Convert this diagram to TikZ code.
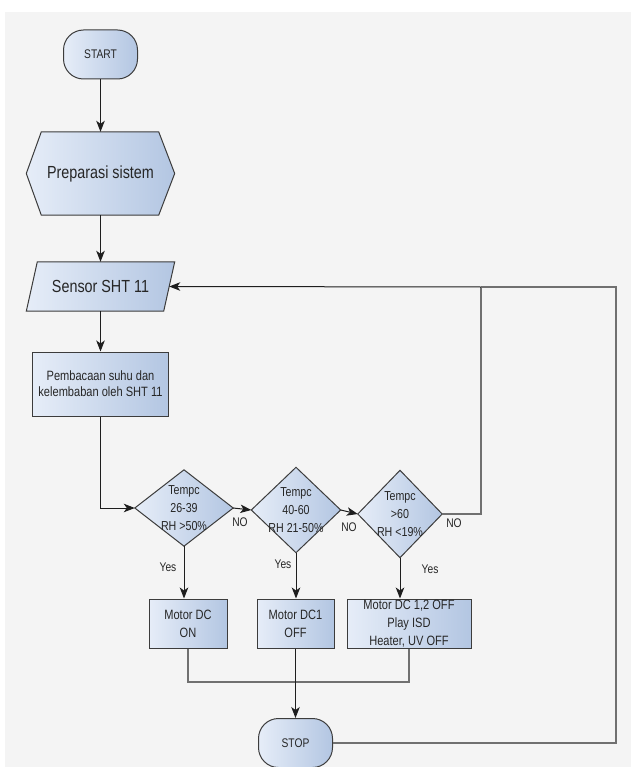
\documentclass[tikz,border=0pt]{standalone}
\usepackage{fontspec}
\setmainfont{Liberation Sans}[FakeStretch=0.82]
\usetikzlibrary{arrows.meta,backgrounds}
\definecolor{bg}{HTML}{F4F4F4}
\definecolor{fillL}{HTML}{E6EDF8}
\definecolor{fillR}{HTML}{B3C6E2}
\definecolor{edge}{HTML}{3C3C3C}
\definecolor{conn}{HTML}{1E1E1E}
\definecolor{loopc}{HTML}{707070}
\definecolor{ink}{HTML}{262626}
\begin{document}
\begin{tikzpicture}[x=1pt,y=-1pt,
  shp/.style={draw=edge,line width=1pt,left color=fillL,right color=fillR},
  txt/.style={inner sep=0pt,align=center,text=ink},
  term/.style={shp,txt,rounded corners=20pt,minimum width=74pt,minimum height=49pt,font=\fontsize{12.5}{15}\selectfont},
  boxn/.style={shp,txt,minimum height=49pt,font=\fontsize{13.5}{18}\selectfont},
  dia/.style={txt,font=\fontsize{13}{18}\selectfont},
  arr/.style={draw=conn,line width=1pt,-{Stealth[length=11pt,width=8.5pt,inset=3pt]}},
  ln/.style={draw=loopc,line width=1.3pt},
  lbl/.style={inner sep=0pt,text=ink,font=\fontsize{12.5}{15}\selectfont}]
\useasboundingbox (0,0) rectangle (631,767);

% nodes
\node[term] (start) at (100.5,54.5) {START};
\node[txt,minimum width=148pt,minimum height=83pt,font=\fontsize{17.5}{20}\selectfont] (prep) at (100.5,173.5) {Preparasi sistem};
\node[txt,minimum width=137pt,minimum height=49pt,font=\fontsize{17.5}{20}\selectfont] (sen) at (100.5,286.5) {Sensor SHT 11};
\node[shp,txt,minimum width=136pt,minimum height=64pt,font=\fontsize{13.5}{16}\selectfont] (pem) at (100.5,384) {Pembacaan suhu dan\\kelembaban oleh SHT 11};
\node[dia,minimum width=98pt,minimum height=76pt] (d1) at (184,508) {Tempc\\26-39\\RH >50\%};
\node[dia,minimum width=89pt,minimum height=85pt] (d2) at (296,510) {Tempc\\40-60\\RH 21-50\%};
\node[dia,minimum width=84pt,minimum height=87pt] (d3) at (400,514) {Tempc\\>60\\RH <19\%};
\node[boxn,minimum width=78pt] (b1) at (188,623.5) {Motor DC\\ON};
\node[boxn,minimum width=77pt] (b2) at (295.5,623.5) {Motor DC1\\OFF};
\node[boxn,minimum width=124pt] (b3) at (409,623.5) {Motor DC 1,2 OFF\\Play ISD\\Heater, UV OFF};
\node[term] (stop) at (295.5,743) {STOP};

\node[lbl] (no1) at (240,522) {NO};
\node[lbl] (no2) at (349,527) {NO};
\node[lbl] (no3) at (454,523) {NO};
\node[lbl] (y1) at (168,567) {Yes};
\node[lbl] (y2) at (283,564) {Yes};
\node[lbl] (y3) at (430,569) {Yes};

\coordinate (m) at (295.5,682);
\coordinate (c1) at (481,287);
\coordinate (c2) at (616,287);

\begin{pgfonlayer}{background}
\fill[white] (0,0) rectangle (631,767);
\fill[bg] (5,12) rectangle (631,767);
\path[shp] (prep.west) -- ([xshift=15pt]prep.north west) -- ([xshift=-16pt]prep.north east) -- (prep.east) -- ([xshift=-16pt]prep.south east) -- ([xshift=15pt]prep.south west) -- cycle;
\path[shp] ([xshift=5.5pt]sen.north west) -- ([xshift=5.5pt]sen.north east) -- ([xshift=-5.5pt]sen.south east) -- ([xshift=-5.5pt]sen.south west) -- cycle;
\path[shp] (d1.west) -- (d1.north) -- (d1.east) -- (d1.south) -- cycle;
\path[shp] (d2.west) -- (d2.north) -- (d2.east) -- (d2.south) -- cycle;
\path[shp] (d3.west) -- (d3.north) -- (d3.east) -- (d3.south) -- cycle;
\end{pgfonlayer}

% connectors
\draw[arr] (start) -- (prep);
\draw[arr] (prep) -- (sen);
\draw[arr] (sen) -- (pem);
\draw[arr] (pem.south) |- (d1.west);
\draw[arr] (d1.east) -- (d2.west);
\draw[arr] (d2.east) -- (d3.west);
\draw[arr] (d1.south) -- (d1.south |- b1.north);
\draw[arr] (d2.south) -- (d2.south |- b2.north);
\draw[arr] (d3.south) -- (d3.south |- b3.north);
\draw[ln] (b1.south) |- (m);
\draw[ln] (b3.south) |- (m);
\draw[arr] (b2) -- (stop);
\draw[ln] (d3.east) -| (c1);
\draw[ln] (stop.east) -| (c2) -- (c1);
\draw[arr] (c1) -- (sen.east);
\end{tikzpicture}
\end{document}
